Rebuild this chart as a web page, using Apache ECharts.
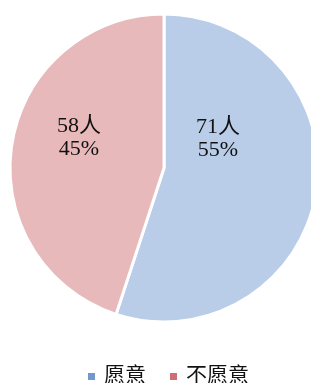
<!DOCTYPE html>
<html lang='en'>
<head>
  <meta charset='UTF-8'>
  <title>愿意</title>
  <script src="https://cdn.jsdelivr.net/npm/echarts@6/dist/echarts.min.js"></script>
  <style>html,body{margin:0;padding:0;background:#fff}</style>
</head>
<body>
<div id="main" style="width: 311px; height:383px;"></div>
<script>
  const names = ['愿意', '不愿意']
  const counts = [71, 58]
  const percents = ['55%', '45%']
  const fills = ['#b9cde8', '#e8b9ba']
  const keyColors = ['#7398cb', '#cd7071']
  // nudge labels to where the original put them
  const labelShift = [[-25, -42], [-6, -18]]

  const data = names.map((name, i) => ({
    name,
    value: counts[i],
    pct: percents[i],
    itemStyle: { color: fills[i] },
    label: { offset: labelShift[i] }
  }))

  var myChart = echarts.init(document.getElementById('main'));
  var option = {
    animation: false,
    legend: {
      top: 361,
      left: 81,
      itemWidth: 9,
      itemHeight: 9,
      itemGap: 22,
      icon: 'rect',
      textStyle: {
        fontFamily: 'Liberation Serif, Noto Sans CJK SC',
        fontSize: 21,
        color: '#111',
        padding: [0, 0, 0, 3]
      },
      data: names.map((n, i) => ({ name: n, itemStyle: { color: keyColors[i] } }))
    },
    series: [
      {
        type: 'pie',
        center: [164, 168],
        radius: 154,
        startAngle: 90,
        clockwise: true,
        itemStyle: {
          borderColor: '#fff',
          borderWidth: 3
        },
        label: {
          position: 'inside',
          fontFamily: 'Liberation Serif, Noto Sans CJK SC',
          fontSize: 22,
          lineHeight: 23,
          color: '#111',
          align: 'left',
          formatter: p => p.value + '人\n' + p.data.pct
        },
        labelLine: { show: false },
        emphasis: { disabled: true },
        data
      }
    ]
  };
  myChart.setOption(option);
</script>
</body>
</html>
